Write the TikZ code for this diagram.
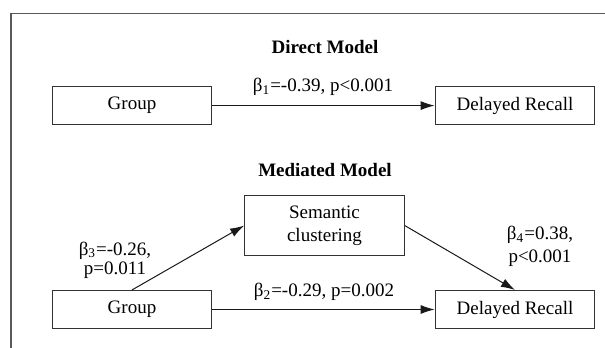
\documentclass[tikz,border=0pt]{standalone}
\usepackage{fontspec}
\setmainfont{Liberation Serif}
\usetikzlibrary{arrows.meta}

\begin{document}
\begin{tikzpicture}
[x=0.5pt, y=-0.5pt,
font=\fontsize{9.5}{11.5}\selectfont,
box/.style={draw=black!80, line width=0.65pt, minimum width=79.7pt,
  minimum height=18.9pt, align=center, inner sep=0pt},
title/.style={font=\fontsize{9.5}{11.5}\selectfont\bfseries, anchor=base},
coef/.style={align=center, inner sep=0pt},
link/.style={draw=black!90, line width=0.5pt, -{Latex[length=7pt,width=4.5pt]}},
]
\useasboundingbox (0,0) rectangle (605,348);
\draw[black!65, line width=0.6pt] (11,348) -- (11,13.3) -- (605,13.3);

% direct model
\node[title] (dtitle) at (325,53.3) {Direct Model};
\node[box] (group1) at (132,105.6) {Group};
\node[box] (recall1) at (515,105.6) {Delayed Recall};
\draw[link] (group1) -- (recall1);
\node[coef, anchor=base] (b1) at (323,91.7) {β\textsubscript{1}=-0.39, p<0.001};

% mediated model
\node[title] (mtitle) at (325,176.7) {Mediated Model};
\node[box, minimum height=30pt] (cluster) at (324.5,225.6) {Semantic\\clustering};
\node[box] (group2) at (132,309.5) {Group};
\node[box] (recall2) at (515,309.5) {Delayed Recall};
\draw[link] (group2.north) -- (cluster.west);
\draw[link] (cluster.east) -- (recall2.north);
\draw[link] (group2) -- (recall2);
\node[coef, anchor=base] (b2) at (324,296.7) {β\textsubscript{2}=-0.29, p=0.002};
\node[coef] (b3) at (115,260) {β\textsubscript{3}=-0.26,\\[-2pt]p=0.011};
\node[coef] (b4) at (540,246.7) {β\textsubscript{4}=0.38,\\p<0.001};
\end{tikzpicture}
\end{document}
